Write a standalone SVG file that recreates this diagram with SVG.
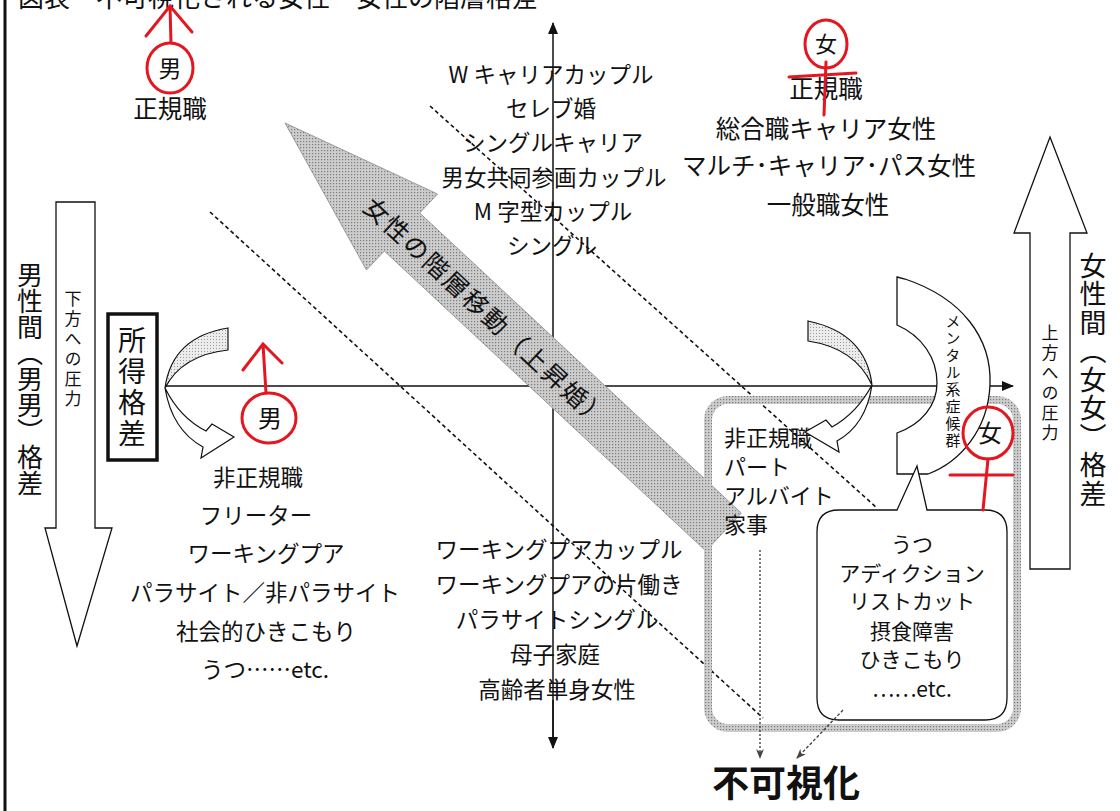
<svg xmlns="http://www.w3.org/2000/svg" width="1120" height="811" viewBox="0 0 1120 811">
<style>
text{font-family:"Noto Sans CJK JP","Noto Sans",sans-serif;fill:#111}
.l{font-size:22.5px;text-anchor:middle}
.tr{font-size:24.5px;text-anchor:middle}
.bx{font-size:22px}
.bb{font-size:21px;text-anchor:middle}
.v{writing-mode:vertical-rl}
.ln{stroke:#111;stroke-width:1.5;fill:none}
.sh{stroke:#111;stroke-width:1.3;fill:#fff}
.dash{stroke:#111;stroke-width:1.6;fill:none;stroke-dasharray:4 3}
.red{stroke:#e4161f;stroke-width:3;fill:none;stroke-linecap:round}
</style>
<defs>
<pattern id="dots" width="3" height="3" patternUnits="userSpaceOnUse"><rect width="3" height="3" fill="#cdcdcd"/><rect width="1.2" height="1.2" fill="#7a7a7a"/></pattern>
<pattern id="ldots" width="3" height="3" patternUnits="userSpaceOnUse"><rect width="3" height="3" fill="#ececec"/><rect width="1" height="1" fill="#9a9a9a"/></pattern>
<marker id="ah" markerWidth="12" markerHeight="10" refX="11" refY="5" orient="auto" markerUnits="userSpaceOnUse"><path d="M0,0 L12,5 L0,10 Z" fill="#111"/></marker>
<marker id="sah" markerWidth="10" markerHeight="8" refX="9" refY="4" orient="auto" markerUnits="userSpaceOnUse"><path d="M0,0 L10,4 L0,8 L3,4 Z" fill="#444"/></marker>
</defs>
<rect width="1120" height="811" fill="#fff"/>
<line x1="5" y1="0" x2="5" y2="811" stroke="#111" stroke-width="3"/>
<text x="18" y="7" style="font-size:26px">図表　不可視化される女性・女性の階層格差</text>

<g id="connectors">
<line class="ln" x1="553" y1="745" x2="553" y2="23" marker-end="url(#ah)"/>
<line class="ln" x1="553" y1="700" x2="553" y2="748" marker-end="url(#ah)"/>
<line class="ln" x1="165" y1="386" x2="1013" y2="386" marker-end="url(#ah)"/>
<line class="dash" x1="210" y1="212" x2="763" y2="718"/>
<line class="dash" x1="430" y1="106" x2="877" y2="508"/>
</g>

<g id="status-arrow">
<polygon points="285,123 437.5,194 419.7,213 741.3,513 705.9,551 384.3,251 366.5,270" fill="url(#dots)" stroke="#9a9a9a" stroke-width="1"/>
<text transform="translate(369,201) rotate(43)" dominant-baseline="central" style="font-size:25px;letter-spacing:2px">女性の階層移動（上昇婚）</text>
</g>

<g id="male-gap">
<text class="v" x="30" y="262" style="font-size:26px">男性間（男男）格差</text>
</g>
<g id="down-pressure">
<polygon class="sh" points="56,202 95,202 95,528 112,528 77,646 45,528 56,528"/>
<text class="v" x="73" y="290" style="font-size:17px;letter-spacing:3px">下方への圧力</text>
</g>
<g id="income-gap">
<rect x="108" y="314" width="49" height="146" fill="#fff" stroke="#111" stroke-width="3.5"/>
<text class="v" x="132" y="326" style="font-size:28px;letter-spacing:3px">所得格差</text>
</g>
<g id="left-curve">
<path d="M165,388 Q172,337 228,328 L228,350 Q182,355 165,388 Z" fill="url(#ldots)" stroke="#111" stroke-width="1.2"/>
<path d="M165,388 Q172,430 203,447 L201,458 L234,437 L212,424 L206,431 Q180,418 165,388 Z" fill="#fff" stroke="#111" stroke-width="1.2"/>
</g>

<g id="female-gap">
<text class="v" x="1093" y="252" style="font-size:27px;letter-spacing:1.5px">女性間（女女）格差</text>
</g>
<g id="up-pressure">
<polygon class="sh" points="1050,137 1087,233 1070,233 1070,569 1030,569 1030,233 1014,233"/>
<text class="v" x="1050" y="324" style="font-size:17px;letter-spacing:3px">上方への圧力</text>
</g>

<g id="invisible-box">
<rect x="708" y="400" width="309" height="328" rx="20" fill="none" stroke="url(#dots)" stroke-width="8"/>
<text class="bx" x="724" y="446">非正規職</text>
<text class="bx" x="724" y="475">パート</text>
<text class="bx" x="724" y="504">アルバイト</text>
<text class="bx" x="724" y="533">家事</text>
</g>

<g id="right-curve">
<path d="M872,385 Q866,333 808,321 L808,341 Q855,348 872,385 Z" fill="url(#ldots)" stroke="#111" stroke-width="1.2"/>
<path d="M872,385 Q866,425 837,441 L839,452 L805,432 L826,420 L832,427 Q857,413 872,385 Z" fill="#fff" stroke="#111" stroke-width="1.2"/>
</g>

<g id="mental">
<path class="sh" d="M897,277 L905,279 C962,298 992,338 990,385 C988,430 960,462 928,474 L897,474 L897,433 C922,424 937,405 937,383 C937,358 922,336 897,325 Z"/>
<text class="v" x="953" y="314" style="font-size:15px;letter-spacing:2px">メンタル系症候群</text>
</g>

<g id="bubble">
<path class="sh" d="M839,510 L897,510 L917,466 L927,510 L985,510 Q1007,510 1007,532 L1007,698 Q1007,720 985,720 L839,720 Q817,720 817,698 L817,532 Q817,510 839,510 Z"/>
<text class="bb" x="912" y="552">うつ</text>
<text class="bb" x="912" y="581">アディクション</text>
<text class="bb" x="912" y="609">リストカット</text>
<text class="bb" x="912" y="639">摂食障害</text>
<text class="bb" x="912" y="667">ひきこもり</text>
<text class="bb" x="912" y="697">……etc.</text>
</g>

<g id="invisible-arrows">
<line x1="760" y1="550" x2="760" y2="758" stroke="#444" stroke-width="1.4" stroke-dasharray="2 2" marker-end="url(#sah)"/>
<line x1="843" y1="710" x2="797" y2="758" stroke="#444" stroke-width="1.4" stroke-dasharray="3 2" marker-end="url(#sah)"/>
</g>
<g id="invisible-label">
<text x="712" y="797" style="font-size:37px;font-weight:bold">不可視化</text>
</g>

<g id="top-center">
<text class="l" x="551" y="83">W キャリアカップル</text>
<text class="l" x="551" y="117">セレブ婚</text>
<text class="l" x="553" y="151">シングルキャリア</text>
<text class="l" x="554" y="186">男女共同参画カップル</text>
<text class="l" x="553" y="220">M 字型カップル</text>
<text class="l" x="552" y="254">シングル</text>
</g>

<g id="top-right">
<text class="tr" x="826" y="98">正規職</text>
<text class="tr" x="826" y="138">総合職キャリア女性</text>
<text class="tr" x="829" y="175">マルチ･キャリア･パス女性</text>
<text class="tr" x="828" y="214">一般職女性</text>
</g>

<g id="top-left">
<text x="170" y="118" style="font-size:24.5px;text-anchor:middle">正規職</text>
</g>

<g id="bottom-left">
<text class="l" x="258" y="486">非正規職</text>
<text class="l" x="256" y="524">フリーター</text>
<text class="l" x="266" y="562">ワーキングプア</text>
<text class="l" x="265" y="601">パラサイト／非パラサイト</text>
<text class="l" x="266" y="640">社会的ひきこもり</text>
<text class="l" x="265" y="678">うつ……etc.</text>
</g>

<g id="bottom-center">
<text class="l" x="559" y="558">ワーキングプアカップル</text>
<text class="l" x="559" y="593">ワーキングプアの片働き</text>
<text class="l" x="557" y="628">パラサイトシングル</text>
<text class="l" x="555" y="663">母子家庭</text>
<text class="l" x="557" y="698">高齢者単身女性</text>
</g>

<g id="red-annotations">
<ellipse class="red" cx="170" cy="68" rx="23" ry="25"/>
<text x="170" y="77" style="font-size:23px;text-anchor:middle">男</text>
<path class="red" d="M171,43 L170,6 M146,36 L170,6 L192,32"/>
<ellipse class="red" cx="269" cy="418" rx="27" ry="25"/>
<text x="270" y="427" style="font-size:24px;text-anchor:middle">男</text>
<path class="red" d="M266,393 L263,344 M243,370 L263,344 L282,363"/>
<ellipse class="red" cx="826" cy="44" rx="21" ry="24"/>
<text x="826" y="52" style="font-size:22px;text-anchor:middle">女</text>
<path class="red" d="M789,77 L856,73 M826,62 L824,115"/>
<ellipse class="red" cx="988" cy="433" rx="25" ry="26"/>
<text x="990" y="442" style="font-size:24px;text-anchor:middle">女</text>
<path class="red" d="M950,475 L1013,475 M988,459 L983,510"/>
</g>
</svg>
